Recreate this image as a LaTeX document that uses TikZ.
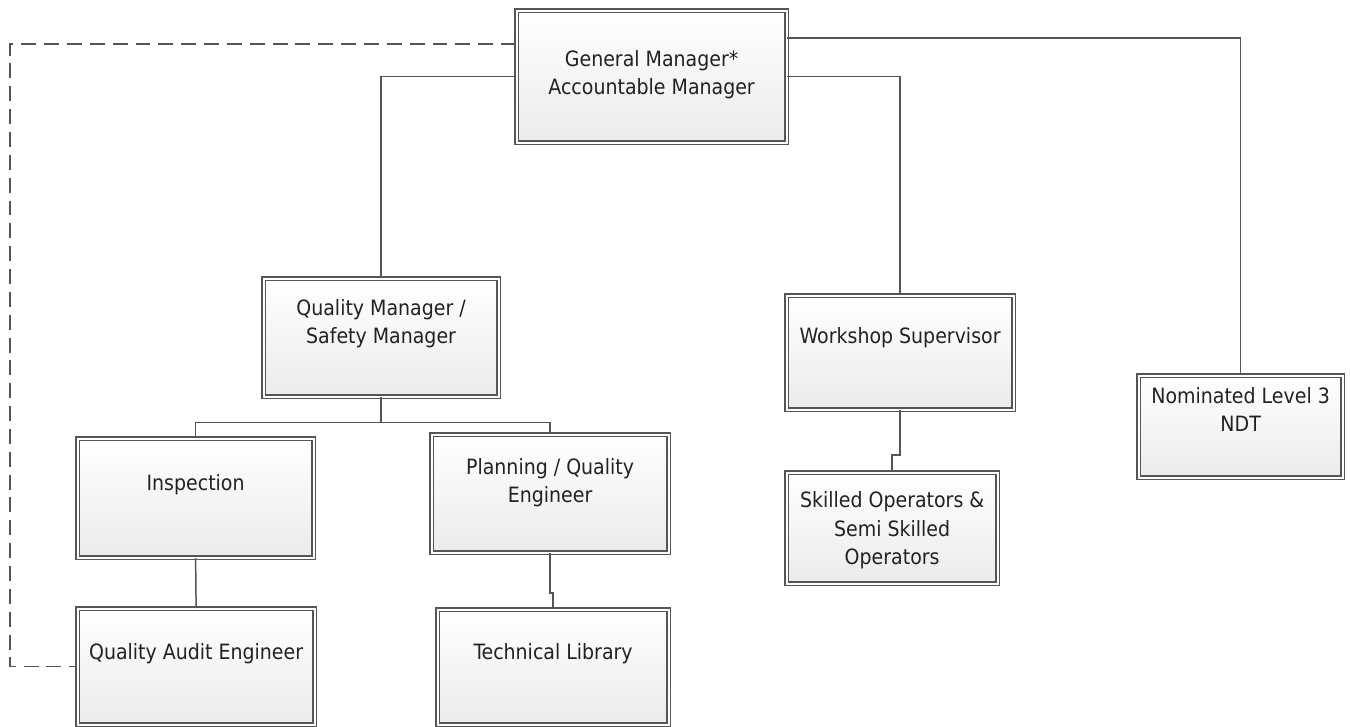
\documentclass[tikz,border=0pt]{standalone}
\usepackage{fontspec}
\setmainfont{DejaVu Sans Condensed}
\usepackage{xcolor}
\definecolor{lineGrey}{HTML}{555555}
\definecolor{fillGrey}{HTML}{EBEBEB}
\definecolor{textGrey}{HTML}{222222}
\usepackage{tikz}
\usetikzlibrary{positioning}
\usetikzlibrary{calc}
\usetikzlibrary{shadows}
\tikzset{link/.style = {draw = lineGrey, line width = 0.85pt}}

\begin{document}
\begin{tikzpicture}[box/.style = {rectangle, draw = lineGrey, line width = 0.7pt, double = white, double distance = 1.1pt, top color = white, bottom color = fillGrey, drop shadow = {shadow xshift = 1pt, shadow yshift = -1pt, fill = black!40, opacity = 0.5}, anchor = north west, inner sep = 0pt, align = center, text = textGrey, font = \fontsize{12}{16}\selectfont}]
	\useasboundingbox (0, 0) rectangle (27, -14.52);

	%% Level 0
	\node[box, minimum width = 5.40cm, text height = 1.68cm, text depth = 0.96cm] (gm) at (10.32, -0.20) {General Manager*\\Accountable Manager};

	%% Level 1
	\node[box, minimum width = 4.70cm, text height = 1.30cm, text depth = 1.06cm] (qm) at (5.26, -5.56) {Quality Manager /\\Safety Manager};
	\node[box, minimum width = 4.54cm, text height = 0.96cm, text depth = 1.32cm] (ws) at (15.72, -5.90) {Workshop Supervisor};
	\node[box, minimum width = 4.08cm, text height = 1.12cm, text depth = 0.92cm] (ndt) at (22.76, -7.50) {Nominated Level 3\\NDT};

	%% Level 2
	\node[box, minimum width = 4.72cm, text height = 1.04cm, text depth = 1.34cm] (insp) at (1.54, -8.76) {Inspection};
	\node[box, minimum width = 4.74cm, text height = 1.36cm, text depth = 1.00cm] (plan) at (8.62, -8.68) {Planning / Quality\\Engineer};
	\node[box, minimum width = 4.22cm, text height = 1.83cm, text depth = 0.39cm] (ops) at (15.72, -9.44) {Skilled Operators \&\\Semi Skilled\\Operators};

	%% Level 3
	\node[box, minimum width = 4.74cm, text height = 1.02cm, text depth = 1.30cm] (qae) at (1.54, -12.16) {Quality Audit Engineer};
	\node[box, minimum width = 4.62cm, text height = 1.00cm, text depth = 1.30cm] (lib) at (8.74, -12.18) {Technical Library};

	\coordinate (qmbus) at ($(qm.south) + (0, -0.51)$);
	\coordinate (edge) at (0.2, 0);

	%% Connectors...
	% ... 0 to 1
	\draw[link] (gm.west) -| (qm.north);
	\draw[link] (gm.east) -| (ws.north);
	\draw[link] ([yshift = -0.56cm]gm.north east) -| (ndt.north);
	\draw[link, dash pattern = on 8.5pt off 4.5pt] ([yshift = -0.68cm]gm.north west) -| (edge |- qae.west) -- (qae.west);

	% ... 1 to 2
	\draw[link] (qm.south) -- (qmbus) -| (insp.north);
	\draw[link] (qmbus) -| (plan.north);
	\draw[link] (ws.south) -- ++(0, -0.9) -| (ops.north);

	% ... 2 to 3
	\draw[link] (insp.south) -- (qae.north);
	\draw[link] (plan.south) -- ++(0, -0.8) -| (lib.north);
\end{tikzpicture}
\end{document}
